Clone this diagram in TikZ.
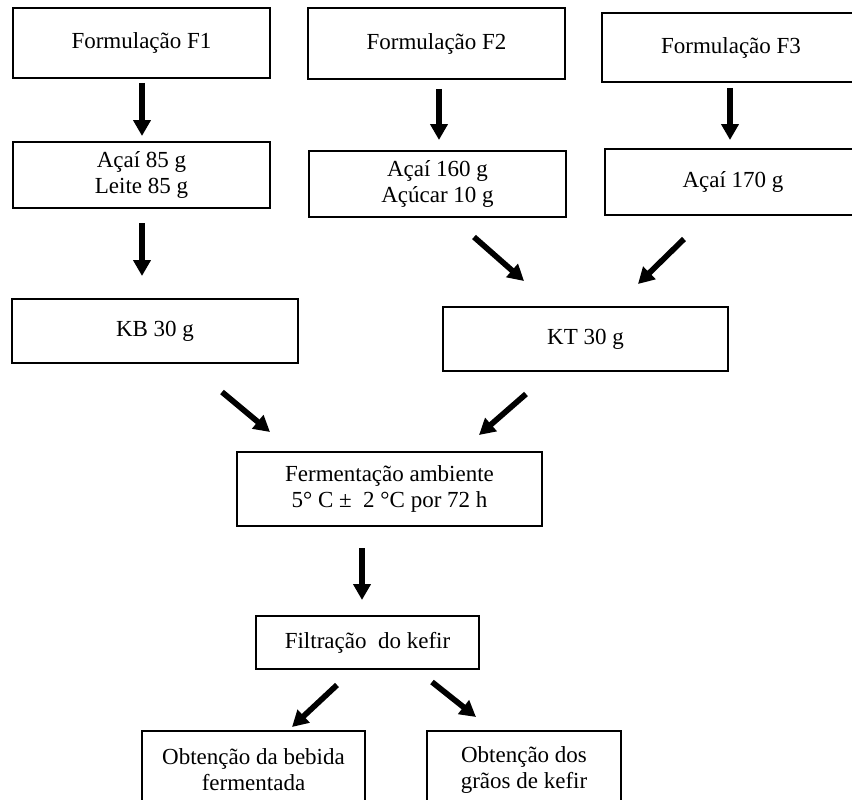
\documentclass[tikz,border=0pt]{standalone}
\usepackage{fontspec}
\setmainfont{Liberation Serif}
\usetikzlibrary{arrows.meta}
\begin{document}
\begin{tikzpicture}[x=1pt,y=-1pt,
  box/.style={draw, line width=1.5pt, inner sep=0pt, align=center, font=\fontsize{23}{26}\selectfont},
  arr/.style={line width=5.7pt, -{Triangle[length=16pt,width=17pt]}}]
\useasboundingbox (0,0) rectangle (852,800);
\clip (0,0) rectangle (852,800);

% boxes
\node[box, minimum width=257pt, minimum height=70pt] (f1) at (141.5,43) {Formulação F1};
\node[box, minimum width=257pt, minimum height=71pt] (f2) at (436.5,43.5) {Formulação F2};
\node[box, minimum width=258pt, minimum height=69pt] (f3) at (731,47.5) {Formulação F3};
\node[box, minimum width=257pt, minimum height=66pt] (a1) at (141.5,175) {Açaí 85 g\\Leite 85 g};
\node[box, minimum width=257pt, minimum height=66pt] (a2) at (437.5,184) {Açaí 160 g\\Açúcar 10 g};
\node[box, minimum width=256pt, minimum height=66pt] (a3) at (733,182) {Açaí 170 g};
\node[box, minimum width=286pt, minimum height=64pt] (kb) at (155,331) {KB 30 g};
\node[box, minimum width=285pt, minimum height=64pt] (kt) at (585.5,339) {KT 30 g};
\node[box, minimum width=305pt, minimum height=74pt] (fe) at (389.5,489) {Fermentação ambiente\\5° C ±~ 2 °C por 72 h};
\node[box, minimum width=223pt, minimum height=53pt] (fi) at (367.5,642.5) {Filtração~ do kefir};
\node[box, minimum width=223pt, minimum height=78pt] (ob) at (253.5,770) {Obtenção da bebida\\fermentada};
\node[box, minimum width=194pt, minimum height=78pt] (og) at (524,770) {Obtenção dos\\grãos de kefir};

% arrow ends
\coordinate (f1out) at (142,83);  \coordinate (a1in) at (142,136);
\coordinate (f2out) at (439,89);  \coordinate (a2in) at (439,140);
\coordinate (f3out) at (730,88);  \coordinate (a3in) at (730,140);
\coordinate (a1out) at (142,223); \coordinate (kbin) at (142,276);
\coordinate (a2out) at (474,237); \coordinate (ktinl) at (524,281);
\coordinate (a3out) at (684,239); \coordinate (ktinr) at (638,284);
\coordinate (kbout) at (222,392); \coordinate (feinl) at (270,432);
\coordinate (ktout) at (526,394); \coordinate (feinr) at (479,435);
\coordinate (feout) at (362,548); \coordinate (fiin) at (362,600);
\coordinate (fioutl) at (337,685); \coordinate (obin) at (292,727);
\coordinate (fioutr) at (432,682); \coordinate (ogin) at (476,717);

\draw[arr] (f1out) -- (a1in);
\draw[arr] (f2out) -- (a2in);
\draw[arr] (f3out) -- (a3in);
\draw[arr] (a1out) -- (kbin);
\draw[arr] (a2out) -- (ktinl);
\draw[arr] (a3out) -- (ktinr);
\draw[arr] (kbout) -- (feinl);
\draw[arr] (ktout) -- (feinr);
\draw[arr] (feout) -- (fiin);
\draw[arr] (fioutl) -- (obin);
\draw[arr] (fioutr) -- (ogin);
\end{tikzpicture}
\end{document}
